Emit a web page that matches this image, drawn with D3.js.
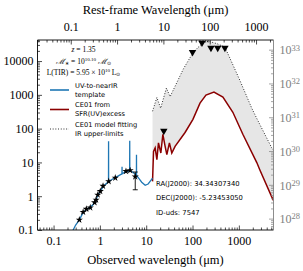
<!DOCTYPE html>
<html>
<head>
<meta charset="utf-8">
<script src="https://cdn.jsdelivr.net/npm/d3@7"></script>
<style>
  body { margin: 0; background: #fff; }
  svg text { font-family: "Liberation Serif", serif; }
  .axis path { display: none; }
  .axis line { stroke: #000; stroke-width: 0.7; }
  .axis.right line { stroke: #808080; }
  .axis.right text { fill: #808080; }
  .sans { font-family: "DejaVu Sans", sans-serif !important; }
</style>
</head>
<body>
<svg class="chart"></svg>
<script>
const redshift = 1.35;
const xLimits = [0.045, 5600];
const yLimits = [0.1, 42000];
const lumPerFlux = 4.6e28;

const xMajor = [0.1, 1, 10, 100, 1000];
const restMajor = [0.1, 1, 10, 100, 1000];
const yMajor = [0.1, 1, 10, 100, 1000, 10000];
const lumExponents = [28, 29, 30, 31, 32, 33];

// UV-to-nearIR template (mJy), line spikes written out point by point
const templateWl = [0.24, 0.265, 0.3, 0.36, 0.43, 0.5, 0.6, 0.7, 0.8, 0.9, 1.0, 1.2, 1.5,
  1.535, 1.54, 1.545, 2.0, 2.5, 2.995, 3.01, 3.025, 3.6, 4.39, 4.41, 4.43, 5.0, 6.0,
  6.15, 6.17, 6.19, 7.0, 8.0, 9.5, 11, 12.5, 13.7];
const templateFlux = [0.07, 0.1, 0.14, 0.2, 0.32, 0.4, 0.46, 0.55, 0.72, 1.05, 1.35, 2.0, 2.65,
  2.7, 42, 2.7, 3.4, 4.0, 4.6, 7.5, 4.6, 5.3, 5.6, 44, 5.6, 5.3, 4.3,
  4.2, 17, 4.1, 3.3, 2.6, 2.1, 2.3, 2.9, 3.4];

const photWl = [0.36, 0.435, 0.51, 0.62, 0.77, 0.83, 0.9, 1.02, 1.17, 1.55, 2.15, 3.66, 4.5, 5.8];
const photFlux = [0.2, 0.34, 0.42, 0.46, 0.65, 0.78, 1.1, 1.4, 2.0, 2.75, 3.5, 5.5, 5.8, 3.8];
const errWl = [5.8];
const errLow = [1.55];
const errHigh = [5.2];

const limitWl = [24, 100, 160, 250, 350, 500];
const limitFlux = [85, 18400, 34700, 24500, 24500, 24500];

// CE01 scaled from SFR(UV) excess
const ceUvWl = [13.7, 14.4, 15.6, 17.0, 18.4, 20.7, 22.9, 25.6, 27.9, 31.7, 35.7, 42, 69, 102,
  145, 195, 290, 453, 743, 1220, 2440, 2830, 5130, 5660];
const ceUvFlux = [2.75, 21, 27, 12, 38, 19, 68, 30, 17, 38, 19, 30, 77, 189,
  567, 981, 1206, 855, 305, 68, 9.9, 6.1, 0.96, 0.73];

// CE01 fitted to the IR upper limits
const ceFitWl = [13.7, 17.0, 20.5, 27.3, 32.8, 63.4, 104, 171, 221, 331, 500, 1051, 1905,
  2440, 5130, 5660];
const ceFitFlux = [327, 837, 402, 1585, 885, 5836, 18370, 36000, 38500, 33000, 26000, 2700, 400,
  200, 27, 22];

const margin = {top: 40, right: 29.5, bottom: 41, left: 37.5};
const width = 303 - margin.left - margin.right;
const height = 271 - margin.top - margin.bottom;

const x = d3.scaleLog().domain(xLimits).range([0, width]);
const xRest = d3.scaleLog()
    .domain(xLimits.map((d) => d / (1 + redshift)))
    .range([0, width]);
const y = d3.scaleLog().domain(yLimits).range([height, 0]);
const yLum = d3.scaleLog()
    .domain(yLimits.map((d) => d * lumPerFlux))
    .range([height, 0]);

const isPow10 = (d) => Math.abs(Math.log10(d) - Math.round(Math.log10(d))) < 1e-6;
const minorOf = (scale) => scale.ticks().filter((d) => !isPow10(d));
const fmt = (d) => (d < 1 ? d3.format(".1f")(d) : d3.format("d")(d));

const svg = d3.select(".chart")
    .attr("width", 303)
    .attr("height", 271);

const chart = svg.append("g")
    .attr("transform", `translate(${ margin.left },${ margin.top })`);

chart.append("clipPath")
    .attr("id", "plot-clip")
  .append("rect")
    .attr("width", width)
    .attr("height", height);

const plot = chart.append("g").attr("clip-path", "url(#plot-clip)");

const pts = (wl, fl) => wl.map((w, i) => [w, fl[i]]);
const line = d3.line().x((d) => x(d[0])).y((d) => y(d[1]));

// shaded band between the two CE01 curves
const band = pts(ceFitWl, ceFitFlux).concat(pts(ceUvWl, ceUvFlux).reverse());
plot.append("path")
    .attr("d", line(band) + "Z")
    .attr("fill", "#e6e6e6")
    .attr("stroke", "none");

plot.append("path")
    .attr("d", line(pts(ceFitWl, ceFitFlux)))
    .attr("fill", "none")
    .attr("stroke", "#000")
    .attr("stroke-width", 0.9)
    .attr("stroke-dasharray", "0.9,1.8");

plot.append("path")
    .attr("d", line(pts(ceUvWl, ceUvFlux)))
    .attr("fill", "none")
    .attr("stroke", "#8b0000")
    .attr("stroke-width", 1.5);

plot.append("path")
    .attr("d", line(pts(templateWl, templateFlux)))
    .attr("fill", "none")
    .attr("stroke", "#1f77b4")
    .attr("stroke-width", 1.3);

// error bar
errWl.forEach((w, i) => {
  const g = plot.append("g").attr("stroke", "#000").attr("stroke-width", 0.9);
  g.append("line")
      .attr("x1", x(w)).attr("x2", x(w))
      .attr("y1", y(errLow[i])).attr("y2", y(errHigh[i]));
  [errLow[i], errHigh[i]].forEach((v) => {
    g.append("line")
        .attr("x1", x(w) - 2.5).attr("x2", x(w) + 2.5)
        .attr("y1", y(v)).attr("y2", y(v));
  });
});

plot.selectAll(".star")
    .data(pts(photWl, photFlux))
  .enter().append("path")
    .attr("class", "star")
    .attr("transform", (d) => `translate(${ x(d[0]) },${ y(d[1]) })`)
    .attr("d", d3.symbol(d3.symbolStar, 16))
    .attr("fill", "#000");

plot.selectAll(".limit")
    .data(pts(limitWl, limitFlux))
  .enter().append("path")
    .attr("class", "limit")
    .attr("transform", (d) => `translate(${ x(d[0]) },${ y(d[1]) }) rotate(180)`)
    .attr("d", d3.symbol(d3.symbolTriangle, 24))
    .attr("fill", "#000");

// axes: major and minor ticks, all pointing inward
const addAxis = (axis, cls, transform, fontSize) => {
  const g = chart.append("g")
      .attr("class", `axis ${ cls }`)
      .attr("transform", transform)
      .call(axis);
  g.selectAll("text").attr("font-size", fontSize).attr("font-family", "Liberation Serif, serif");
  return g;
};

addAxis(d3.axisBottom(x).tickValues(xMajor).tickFormat(fmt).tickSizeInner(-4.5).tickPadding(6),
  "bottom", `translate(0,${ height })`, 12);
addAxis(d3.axisBottom(x).tickValues(minorOf(x)).tickFormat("").tickSizeInner(-2.5),
  "bottom", `translate(0,${ height })`, 12);

addAxis(d3.axisTop(xRest).tickValues(restMajor).tickFormat(fmt).tickSizeInner(-4.5).tickPadding(9),
  "top", "translate(0,0)", 12);
addAxis(d3.axisTop(xRest).tickValues(minorOf(xRest)).tickFormat("").tickSizeInner(-2.5),
  "top", "translate(0,0)", 12);

addAxis(d3.axisLeft(y).tickValues(yMajor).tickFormat(fmt).tickSizeInner(-4.5).tickPadding(4),
  "left", "translate(0,0)", 12);
addAxis(d3.axisLeft(y).tickValues(minorOf(y)).tickFormat("").tickSizeInner(-2.5),
  "left", "translate(0,0)", 12);

const lumTicks = lumExponents.map((e) => Math.pow(10, e));
const rightAxis = addAxis(d3.axisRight(yLum).tickValues(lumTicks).tickFormat("").tickSizeInner(-4.5),
  "right", `translate(${ width },0)`, 12);
addAxis(d3.axisRight(yLum).tickValues(minorOf(yLum)).tickFormat("").tickSizeInner(-2.5),
  "right", `translate(${ width },0)`, 12);

rightAxis.selectAll(".tick").each(function(d, i) {
  const t = d3.select(this).append("text")
      .attr("x", 6)
      .attr("dy", "0.35em")
      .attr("font-size", 12)
      .attr("text-anchor", "start")
      .text("10");
  t.append("tspan")
      .attr("dy", "-0.45em")
      .attr("font-size", 8.5)
      .text(lumExponents[i]);
});

// frame
chart.append("path")
    .attr("d", `M${ width },0H0V${ height }H${ width }`)
    .attr("fill", "none")
    .attr("stroke", "#000")
    .attr("stroke-width", 0.9);
chart.append("line")
    .attr("x1", width).attr("x2", width)
    .attr("y1", 0).attr("y2", height)
    .attr("stroke", "#808080")
    .attr("stroke-width", 0.9);

// axis titles
svg.append("text")
    .attr("x", margin.left + width / 2)
    .attr("y", 14)
    .attr("text-anchor", "middle")
    .attr("font-size", 12.5)
    .text("Rest-frame Wavelength (μm)");

svg.append("text")
    .attr("x", margin.left + width / 2)
    .attr("y", 264)
    .attr("text-anchor", "middle")
    .attr("font-size", 12.5)
    .text("Observed wavelength (μm)");

// physical properties
const props = chart.append("g")
    .attr("font-size", 7.5)
    .attr("text-anchor", "middle");
const p1 = props.append("text").attr("x", 46).attr("y", 12);
p1.append("tspan").attr("font-style", "italic").text("z");
p1.append("tspan").text(" = 1.35");
const p2 = props.append("text").attr("x", 46).attr("y", 23.5);
p2.append("tspan").attr("font-style", "italic").text("ℳ");
p2.append("tspan").attr("font-size", 5).attr("dy", 1.5).text("∗");
p2.append("tspan").attr("dy", -1.5).text(" = 10");
p2.append("tspan").attr("font-size", 5).attr("dy", -3).text("10.10");
p2.append("tspan").attr("dy", 3).attr("font-style", "italic").text(" ℳ");
p2.append("tspan").attr("font-size", 5).attr("dy", 1.5).text("⊙");
const p3 = props.append("text").attr("x", 46).attr("y", 34.5);
p3.append("tspan").text("L(TIR) = 5.95 × 10");
p3.append("tspan").attr("font-size", 5).attr("dy", -3).text("10");
p3.append("tspan").attr("dy", 3).text(" L");
p3.append("tspan").attr("font-size", 5).attr("dy", 1.5).text("⊙");

// legend
const legend = chart.append("g").attr("class", "legend");
const legendItems = [
  {lines: ["UV-to-nearIR", "template"], color: "#1f77b4", dash: null, width: 1.6, cy: 50},
  {lines: ["CE01 from", "SFR(UV)excess"], color: "#8b0000", dash: null, width: 1.6, cy: 69.5},
  {lines: ["CE01 model fitting", "IR upper-limits"], color: "#000", dash: "0.9,1.8", width: 0.9, cy: 89}
];
legendItems.forEach((item) => {
  legend.append("line")
      .attr("x1", 12.5).attr("x2", 31.5)
      .attr("y1", item.cy).attr("y2", item.cy)
      .attr("stroke", item.color)
      .attr("stroke-width", item.width)
      .attr("stroke-dasharray", item.dash);
  item.lines.forEach((txt, j) => {
    legend.append("text")
        .attr("class", "sans")
        .attr("x", 37.5)
        .attr("y", item.cy - 2.5 + j * 9)
        .attr("font-size", 6.7)
        .text(txt);
  });
});

// source info
const info = ["RA(J2000): 34.34307340", "DEC(J2000): -5.23453050", "ID-uds: 7547"];
chart.selectAll(".info")
    .data(info)
  .enter().append("text")
    .attr("class", "sans")
    .attr("x", 118.5)
    .attr("y", (d, i) => 146 + i * 14.3)
    .attr("font-size", 6.8)
    .text((d) => d);
</script>
</body>
</html>
